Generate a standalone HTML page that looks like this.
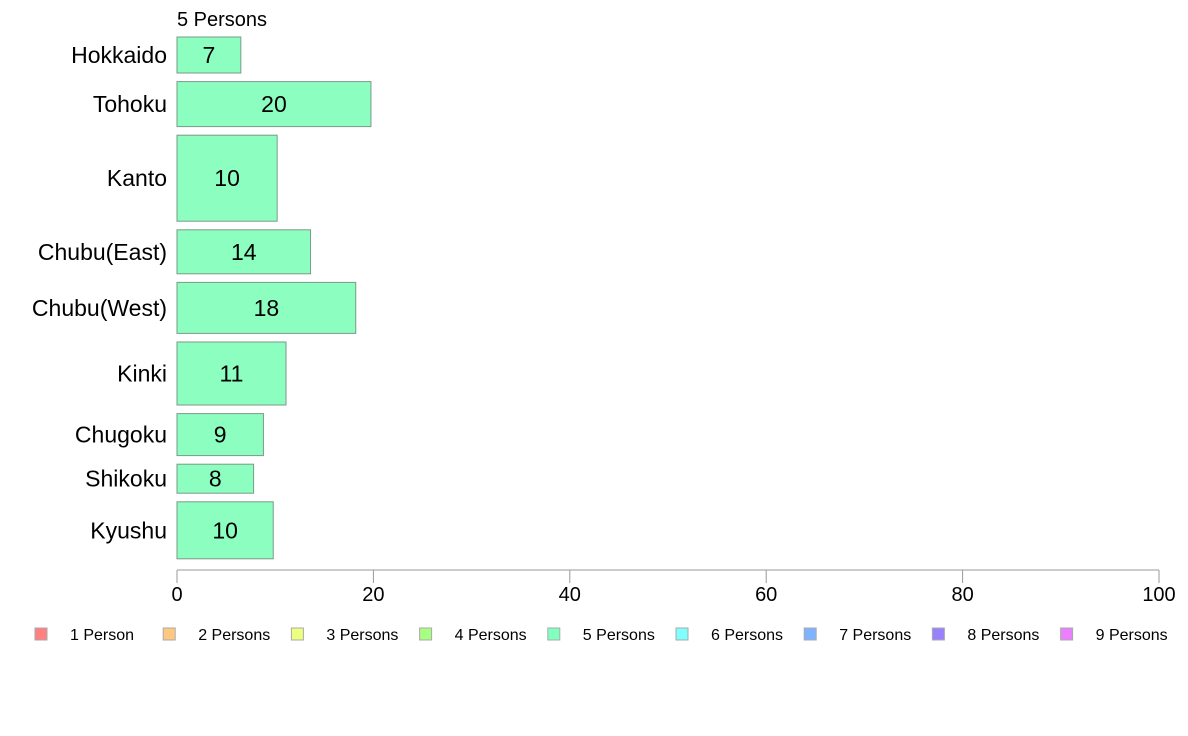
<!DOCTYPE html>
<html><head><meta charset="utf-8"><style>
body{margin:0;background:#fff;font-family:"Liberation Sans",sans-serif}
svg{display:block}
</style></head><body>
<svg id="c" width="1188" height="736" xmlns="http://www.w3.org/2000/svg">
<text x="177" y="26" font-size="20" fill="#000">5 Persons</text>
<g id="bars"></g>
<g id="axis"></g>
<g id="legend"></g>
</svg>
<script>
const categories=["Hokkaido","Tohoku","Kanto","Chubu(East)","Chubu(West)","Kinki","Chugoku","Shikoku","Kyushu"];
const values=[6.5,19.75,10.2,13.6,18.2,11.1,8.8,7.8,9.8];
const labels=["7","20","10","14","18","11","9","8","10"];
const weights=[36,45,86,44,51,63,42,29,57];
const ticks=[0,20,40,60,80,100];
const legendNames=["1 Person","2 Persons","3 Persons","4 Persons","5 Persons","6 Persons","7 Persons","8 Persons","9 Persons"];
const legendColors=["#ff8080","#ffc880","#ecff80","#a6ff80","#80ffbf","#80ffff","#80b3ff","#9980ff","#eb80ff"];
const NS="http://www.w3.org/2000/svg";
const x0=177,x1=1159,yTop=37,gap=8.6;
const xs=v=>x0+(x1-x0)*v/100;
function mk(t,a,p){const e=document.createElementNS(NS,t);for(const k in a)e.setAttribute(k,a[k]);p.appendChild(e);return e;}
const bars=document.getElementById('bars');
let y=yTop;
categories.forEach((c,i)=>{
 const h=weights[i];
 const r=mk('rect',{x:x0,y:y,width:xs(values[i])-x0,height:h,fill:'#8cffc0',stroke:'#7a9a88','stroke-width':1},bars);
 
 
 const t=mk('text',{x:(x0+xs(values[i]))/2,y:y+h/2+8,'text-anchor':'middle','font-size':23,fill:'#000'},bars);
 t.textContent=labels[i];
 
 
 const l=mk('text',{x:167,y:y+h/2+8,'text-anchor':'end','font-size':23,fill:'#000'},bars);
 l.textContent=c;
 
 
 y+=h+gap;
});
const ax=document.getElementById('axis');
const al=mk('line',{x1:x0,x2:x1,y1:570,y2:570,stroke:'#999','stroke-width':1},ax);


ticks.forEach(v=>{
 const tl=mk('line',{x1:xs(v),x2:xs(v),y1:570,y2:583,stroke:'#999'},ax);
 
 
 const t=mk('text',{x:xs(v),y:601,'text-anchor':'middle','font-size':20,fill:'#000'},ax);
 t.textContent=v;
 
 
});
const lg=document.getElementById('legend');
legendNames.forEach((n,i)=>{
 const lx=35+i*128.2;
 const g=mk('g',{},lg);
 
 
 mk('rect',{x:lx,y:628,width:12,height:12,fill:legendColors[i],stroke:'#aaa'},g);
 const t=mk('text',{x:lx+35,y:640,'font-size':16,fill:'#000'},g);
 t.textContent=n;
});
</script>
</body></html>
